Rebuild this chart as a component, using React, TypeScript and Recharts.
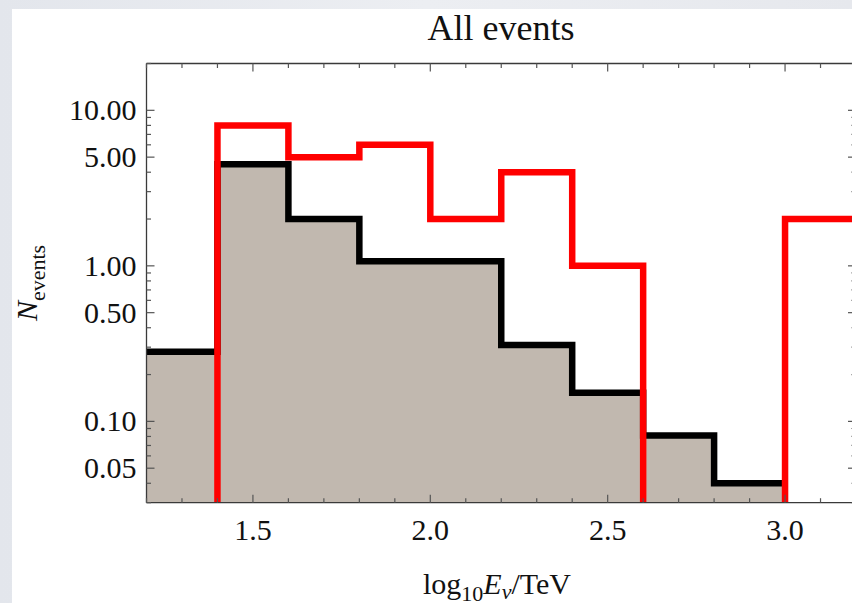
import React from 'react';
import { ComposedChart, Area, Line, XAxis, YAxis } from 'recharts';

// bin edges in log10(E/TeV)
const binEdges = [1.2, 1.4, 1.6, 1.8, 2.0, 2.2, 2.4, 2.6, 2.8, 3.0, 3.2];
// expected events (filled, black outline), one per bin from 1.2 to 3.0
const expectedCounts = [0.28, 4.5, 2.0, 1.07, 1.07, 0.31, 0.153, 0.081, 0.04];
// observed events (red outline), one per bin from 1.2 to 3.2
const observedCounts = [0, 8, 5, 6, 2, 4, 1, 0, 0, 2];

const xTicks = [1.2, 1.3, 1.4, 1.5, 1.6, 1.7, 1.8, 1.9, 2.0, 2.1, 2.2, 2.3, 2.4, 2.5, 2.6, 2.7, 2.8, 2.9, 3.0, 3.1, 3.2];
const xMajor = [1.5, 2.0, 2.5, 3.0];
const yTicks = [
  0.03, 0.04, 0.05, 0.06, 0.07, 0.08, 0.09,
  0.1, 0.2, 0.3, 0.4, 0.5, 0.6, 0.7, 0.8, 0.9,
  1, 2, 3, 4, 5, 6, 7, 8, 9, 10, 20,
];
const yMajor = [0.05, 0.1, 0.5, 1, 5, 10];

const LOG_FLOOR = 0.001; // empty bins sit below the visible range on the log axis

// stepAfter needs a point at every left edge plus the final right edge
const data = binEdges.map((edge, i) => {
  const exp = i < expectedCounts.length ? expectedCounts[i] : i === expectedCounts.length ? expectedCounts[i - 1] : null;
  const obsRaw = i < observedCounts.length ? observedCounts[i] : observedCounts[i - 1];
  return { x: edge, expected: exp, observed: obsRaw > 0 ? obsRaw : LOG_FLOOR };
});

const FONT = '"Liberation Serif", "Times New Roman", serif';
const AXIS = '#3a3a3a';
const TICK = '#555';

const BottomTick = (props: any) => {
  const { x, y, payload } = props;
  const major = xMajor.includes(payload.value);
  return (
    <g>
      <line x1={x} x2={x} y1={y} y2={y - (major ? 8 : 4.5)} stroke={TICK} strokeWidth={1.2} />
      {major && (
        <text x={x} y={y + 37.5} textAnchor="middle" fontSize={30} fontFamily={FONT} fill="#111">
          {payload.value.toFixed(1)}
        </text>
      )}
    </g>
  );
};

const TopTick = (props: any) => {
  const { x, y, payload } = props;
  const major = xMajor.includes(payload.value);
  return <line x1={x} x2={x} y1={y} y2={y + (major ? 8 : 4.5)} stroke={TICK} strokeWidth={1.2} />;
};

const LeftTick = (props: any) => {
  const { x, y, payload } = props;
  const major = yMajor.includes(payload.value);
  return (
    <g>
      <line x1={x} x2={x + (major ? 8 : 4.5)} y1={y} y2={y} stroke={TICK} strokeWidth={1.2} />
      {major && (
        <text x={x - 10} y={y + 10} textAnchor="end" fontSize={30} fontFamily={FONT} fill="#111">
          {payload.value.toFixed(2)}
        </text>
      )}
    </g>
  );
};

const RightTick = (props: any) => {
  const { x, y, payload } = props;
  const major = yMajor.includes(payload.value);
  return <line x1={x} x2={x - (major ? 8 : 4.5)} y1={y} y2={y} stroke={TICK} strokeWidth={1.2} />;
};

export default function App() {
  return (
    <div
      style={{
        position: 'fixed',
        left: 0,
        top: 0,
        width: 852,
        height: 603,
        overflow: 'hidden',
        background: 'linear-gradient(90deg, #e3e6ec 0%, #eceef2 50%, #e6e8ed 100%)',
      }}
    >
      <div style={{ position: 'absolute', left: 12, top: 9, right: 0, bottom: 0, background: '#fff' }} />
      <div style={{ position: 'absolute', left: 0, top: 0 }}>
        <ComposedChart width={870} height={603} data={data} margin={{ top: 62.5, right: 13, bottom: 0, left: 0 }}>
          <XAxis
            dataKey="x"
            type="number"
            domain={[1.2, 3.2]}
            allowDataOverflow
            ticks={xTicks}
            interval={0}
            height={100.3}
            tickSize={0}
            tickMargin={0}
            tickLine={false}
            tick={BottomTick}
            axisLine={{ stroke: AXIS, strokeWidth: 1.3 }}
            label={() => (
              <text x={423} y={594} fontSize={30} fontFamily={FONT} fill="#111">
                log
                <tspan dy={7} fontSize={22}>10</tspan>
                <tspan dy={-7} fontStyle="italic">E</tspan>
                <tspan dy={5} fontSize={22} fontStyle="italic">ν</tspan>
                <tspan dy={-5}>/TeV</tspan>
              </text>
            )}
          />
          <XAxis
            xAxisId="top"
            dataKey="x"
            orientation="top"
            type="number"
            domain={[1.2, 3.2]}
            allowDataOverflow
            ticks={xTicks}
            interval={0}
            height={1}
            tickSize={0}
            tickMargin={0}
            tickLine={false}
            tick={TopTick}
            axisLine={{ stroke: AXIS, strokeWidth: 1.3 }}
            label={() => (
              <text x={501} y={40} textAnchor="middle" fontSize={36} fontFamily={FONT} fill="#111">
                All events
              </text>
            )}
          />
          <YAxis
            type="number"
            scale="log"
            domain={[0.03, 20]}
            allowDataOverflow
            ticks={yTicks}
            interval={0}
            width={146.5}
            tickSize={0}
            tickMargin={0}
            tickLine={false}
            tick={LeftTick}
            axisLine={{ stroke: AXIS, strokeWidth: 1.3 }}
            label={() => (
              <text transform="translate(37, 283) rotate(-90)" textAnchor="middle" fontFamily={FONT} fill="#111">
                <tspan fontSize={30} fontStyle="italic">N</tspan>
                <tspan dy={8} fontSize={22}>events</tspan>
              </text>
            )}
          />
          <YAxis
            yAxisId="right"
            orientation="right"
            type="number"
            scale="log"
            domain={[0.03, 20]}
            allowDataOverflow
            ticks={yTicks}
            interval={0}
            width={1}
            tickSize={0}
            tickMargin={0}
            tickLine={false}
            tick={RightTick}
            axisLine={{ stroke: AXIS, strokeWidth: 1.3 }}
          />
          <Area
            dataKey="expected"
            type="stepAfter"
            fill="#c1b8af"
            fillOpacity={1}
            stroke="#000"
            strokeWidth={6.5}
            dot={false}
            activeDot={false}
            isAnimationActive={false}
          />
          <Line
            xAxisId="top"
            yAxisId="right"
            dataKey="observed"
            type="stepAfter"
            stroke="#ff0000"
            strokeWidth={6.5}
            dot={false}
            activeDot={false}
            isAnimationActive={false}
          />
        </ComposedChart>
      </div>
    </div>
  );
}
